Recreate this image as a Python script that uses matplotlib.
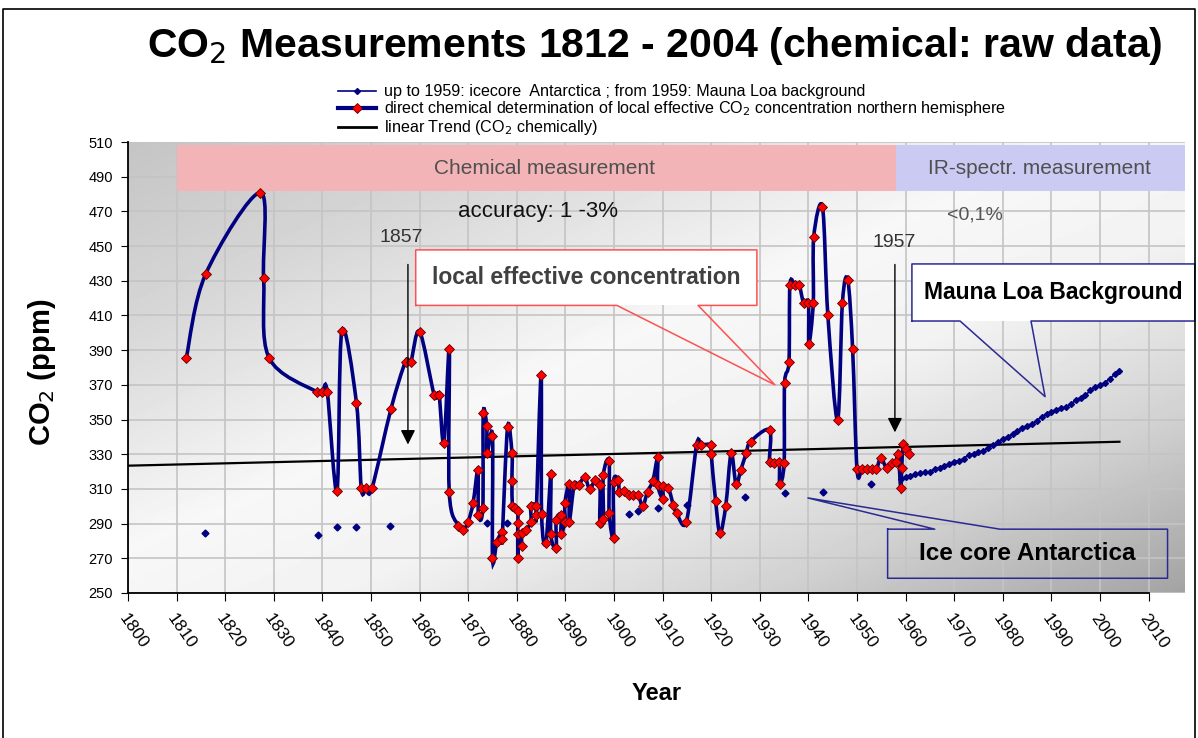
import numpy as np
from matplotlib import pyplot as plt
from matplotlib.path import Path
from matplotlib.patches import PathPatch, Rectangle
from matplotlib.lines import Line2D

plt.rcParams['font.family'] = ['Liberation Sans', 'DejaVu Sans']

# chemical measurements (red diamonds)
chem_year = [1812, 1816, 1827.2, 1827.9, 1829, 1838.8, 1840, 1841, 1843, 1844, 1847, 1848, 1849, 1850.2,
             1854.1, 1857.1, 1858.2, 1860, 1863, 1864, 1865, 1866.1, 1866.1, 1868, 1869, 1870, 1871, 1872,
             1872.1, 1873, 1873.1, 1873.8, 1873.9, 1875, 1875, 1875.9, 1877, 1877, 1878.1, 1879, 1879,
             1879.1, 1879.6, 1880.2, 1880.2, 1880.2, 1880.3, 1881, 1881, 1881.9, 1882.9, 1882.9, 1884, 1884,
             1885, 1885.1, 1886, 1887, 1887, 1888.1, 1888.1, 1889.1, 1889.1, 1889.9, 1889.9, 1890.8, 1890.8,
             1891.8, 1892.7, 1894, 1895, 1896.1, 1897.1, 1897.1, 1897.8, 1897.8, 1899, 1899, 1899.9, 1899.9,
             1900.9, 1901.1, 1902.1, 1903, 1904, 1905, 1905.9, 1906.9, 1908, 1909, 1909, 1910.1, 1910.1,
             1911.2, 1912.2, 1912.9, 1914.9, 1917, 1918, 1920, 1920, 1920.9, 1921.8, 1923, 1924.1, 1925.1,
             1926.1, 1927.2, 1928.1, 1932, 1932, 1933, 1934, 1934.1, 1935, 1935.1, 1936, 1936.2, 1937.2,
             1938.1, 1939, 1940, 1940.1, 1941, 1941.1, 1942.9, 1944, 1946, 1947, 1948.1, 1949.1, 1950, 1951,
             1952, 1953, 1954, 1954.9, 1956.1, 1957.1, 1958, 1958.5, 1959, 1959.2, 1959.5, 1960, 1960.8]
chem_ppm = [385.7, 434, 480.8, 431.8, 385.7, 366, 366, 366, 309, 401, 359.7, 310.4, 310.4, 310.4,
            356, 383.4, 383.4, 400.7, 364.2, 364.2, 336.3, 390.5, 308, 288.8, 286.4, 291.2, 301.8, 321,
            295, 299, 353.6, 346.3, 330.6, 340.5, 270, 279.6, 285.4, 281.2, 345.6, 330.6, 314.6,
            300.4, 298.8, 297, 290.6, 270, 284, 277.3, 284.5, 286.4, 291.2, 300.4, 300.4, 295,
            375.7, 295.6, 279, 318.5, 283.9, 276.2, 292, 295, 284, 291.2, 302, 312.9, 291.2,
            312.3, 312.3, 316.7, 309.8, 315, 312.3, 290.6, 292.5, 318, 326.3, 296.3, 281.6, 314.2,
            315.2, 308.4, 309, 306.5, 306.5, 306.5, 300, 308.4, 314.8, 328.3, 312.3, 304, 311.4,
            310.4, 300.8, 296, 291.2, 335.4, 335.4, 335.4, 330.2, 303.3, 284.5, 300.4, 330.6, 312.9,
            321, 330.6, 337.3, 344, 325.4, 324.8, 325.4, 312.9, 324.8, 370.9, 383.4, 427.6, 427.6,
            427.6, 417.4, 417.4, 393.6, 417.4, 455.4, 472.4, 410.3, 349.8, 417.4, 430.5, 390.5, 321.4, 321.4,
            321.4, 321.4, 321.4, 328, 322, 325.2, 325.8, 330, 310.4, 322, 336, 333, 330]

# ice core Antarctica
ice_year = [1815.8, 1839.1, 1843, 1847, 1854, 1873.8, 1878, 1903, 1905, 1909, 1915, 1927, 1935.2, 1943, 1952.9]
ice_ppm = [284.6, 283.5, 288, 288, 288.7, 290.6, 290.6, 295.6, 297, 299, 301, 305.6, 307.7, 308, 313]

# Mauna Loa background
ml_year = list(range(1959, 2005))
ml_ppm = [316.0, 316.9, 317.6, 318.5, 319.0, 319.6, 320.0, 321.4, 322.2, 323.1, 324.6, 325.7, 326.3, 327.5,
          329.7, 330.2, 331.1, 332.0, 333.8, 335.4, 336.8, 338.8, 340.1, 341.5, 343.2, 344.9, 346.4, 347.6,
          349.3, 351.7, 353.2, 354.5, 355.7, 356.5, 357.2, 359.0, 361.0, 362.7, 363.9, 366.8, 368.5, 369.7,
          371.3, 373.5, 376.0, 377.7]

# linear trend
trend_year = [1800, 2004]
trend_ppm = [323.4, 337.2]

yticks = list(range(250, 511, 20))
xticks = list(range(1800, 2011, 10))

navy = '#000080'


def smooth_path(xs, ys):
    # cubic bezier through the points (like a smoothed spreadsheet line)
    pts = np.column_stack([xs, ys]).astype(float)
    n = len(pts)
    verts = [pts[0]]
    codes = [Path.MOVETO]
    for i in range(n - 1):
        p0 = pts[max(i - 1, 0)]
        p1 = pts[i]
        p2 = pts[i + 1]
        p3 = pts[min(i + 2, n - 1)]
        verts += [p1 + (p2 - p0) / 6, p2 - (p3 - p1) / 6, p2]
        codes += [Path.CURVE4] * 3
    return Path(verts, codes)


fig = plt.figure(figsize=(11.98, 7.38), dpi=100)
ax = fig.add_axes([128 / 1198, 1 - 593 / 738, 1057 / 1198, 451 / 738])
x0, x1 = 1800, 1800 + 1057 / 4.86
ax.set_xlim(x0, x1)
ax.set_ylim(250, 510)

# gradient plot background
u = np.linspace(0, 1, 300)
v = np.linspace(1, 0, 150)
U, V = np.meshgrid(u, v)
t = (U + (1 - V)) / 2
bg = np.interp(t, [0, 0.2, 0.45, 0.6, 0.8, 1], [0.77, 0.84, 0.97, 0.95, 0.82, 0.64])
ax.imshow(bg, extent=[x0, x1, 250, 510], aspect='auto', cmap='gray', vmin=0, vmax=1,
          interpolation='bicubic', zorder=0)

ax.set_xticks(xticks)
ax.set_yticks(yticks)
ax.grid(True, color='#c4c4c4', lw=1.2, zorder=0.5)
ax.set_axisbelow(True)
for s in ['top', 'right']:
    ax.spines[s].set_visible(False)
ax.spines['bottom'].set_bounds(1800, 2010)
ax.spines['left'].set_linewidth(1.3)
ax.spines['bottom'].set_linewidth(1.3)
ax.tick_params(axis='y', direction='out', length=5, labelsize=10.5, pad=6)
ax.tick_params(axis='x', direction='out', length=6, labelsize=12.5, pad=7)
plt.setp(ax.get_xticklabels(), rotation=-55, ha='left', va='top', rotation_mode='anchor')

# measurement bands
ax.add_patch(Rectangle((1810, 481.5), 148, 26.8, facecolor='#f2b4b6', edgecolor='none', zorder=1))
ax.add_patch(Rectangle((1958, 481.5), x1 - 1958, 26.8, facecolor='#cacaf2', edgecolor='none', zorder=1))
ax.text(1885.8, 495, 'Chemical measurement', fontsize=15, color='#505050', ha='center', va='center', zorder=2)
ax.text(1987.5, 495, 'IR-spectr. measurement', fontsize=15, color='#505050', ha='center', va='center', zorder=2)

# data
ax.plot(trend_year, trend_ppm, color='black', lw=1.6, zorder=3)
ax.plot(ice_year, ice_ppm, ls='none', marker='D', ms=3.5, color=navy, zorder=3)
ax.plot(ml_year, ml_ppm, color=navy, lw=1.3, marker='D', ms=3, zorder=3)
ax.add_patch(PathPatch(smooth_path(chem_year, chem_ppm), facecolor='none', edgecolor=navy, lw=2.6, zorder=4))
ax.plot(chem_year, chem_ppm, ls='none', marker='D', ms=5.5, mfc='#ff0000', mec='#600000', mew=0.6, zorder=5)

# texts and arrows
ax.text(1884.4, 469.7, 'accuracy: 1 -3%', fontsize=16, color='#111111', ha='center', va='center', zorder=6)
ax.text(1974.3, 468, '<0,1%', fontsize=14, color='#555555', ha='center', va='center', zorder=6)
ax.text(1856.2, 454.7, '1857', fontsize=14, color='#333333', ha='center', va='center', zorder=6)
ax.text(1957.6, 451.8, '1957', fontsize=14, color='#333333', ha='center', va='center', zorder=6)
ax.annotate('', xy=(1857.6, 334), xytext=(1857.6, 441),
            arrowprops=dict(arrowstyle='-|>', color='black', lw=1, mutation_scale=22), zorder=6)
ax.annotate('', xy=(1957.8, 341), xytext=(1957.8, 441),
            arrowprops=dict(arrowstyle='-|>', color='black', lw=1, mutation_scale=22), zorder=6)


def callout(bx0, bx1, by0, by1, w0, w1, wy, apex, text, ec, fc, size, tcolor):
    ax.add_patch(Rectangle((bx0, by0), bx1 - bx0, by1 - by0, facecolor=fc, edgecolor='none',
                           zorder=6, clip_on=False))
    if wy == by0:
        pts = [(bx0, by0), (w0, by0), apex, (w1, by0), (bx1, by0), (bx1, by1), (bx0, by1), (bx0, by0)]
    else:
        pts = [(bx0, by1), (w0, by1), apex, (w1, by1), (bx1, by1), (bx1, by0), (bx0, by0), (bx0, by1)]
    px, py = zip(*pts)
    ax.plot(px, py, color=ec, lw=1.1, zorder=7, clip_on=False)
    ax.text((bx0 + bx1) / 2, (by0 + by1) / 2, text, fontsize=size, weight='bold', color=tcolor,
            ha='center', va='center', zorder=8, clip_on=False)


callout(1859.2, 1929.4, 415.8, 447.8, 1900.6, 1917.3, 415.8, (1933.1, 370.0),
        'local effective concentration', '#ff5050', 'white', 16.5, '#404040')
callout(1961.3, 2019.5, 406.8, 439.7, 1971.2, 1985.8, 406.8, (1988.7, 363.2),
        'Mauna Loa Background', '#2a2a90', 'white', 16.5, 'black')
callout(1956.3, 2013.9, 258.5, 286.8, 1966.0, 1979.4, 286.8, (1939.9, 304.8),
        'Ice core Antarctica', '#2a2a90', 'none', 17.5, 'black')

ax.set_xlabel('Year', fontsize=17, weight='bold', labelpad=22)
fig.text(42 / 1198, 1 - 372 / 738, 'CO$_2$ (ppm)', fontsize=21, weight='bold', rotation=90,
         ha='center', va='center')
fig.text(655 / 1198, 1 - 46 / 738, 'CO$_2$ Measurements 1812 - 2004 (chemical: raw data)',
         fontsize=29.5, weight='bold', ha='center', va='center')

# legend
handles = [Line2D([], [], color=navy, lw=1.2, marker='D', ms=3),
           Line2D([], [], color=navy, lw=3, marker='D', ms=5.5, mfc='#ff0000', mec='#600000', mew=0.6),
           Line2D([], [], color='black', lw=2)]
labels = ['up to 1959: icecore  Antarctica ; from 1959: Mauna Loa background',
          'direct chemical determination of local effective CO$_2$ concentration northern hemisphere',
          'linear Trend (CO$_2$ chemically)']
fig.legend(handles, labels, loc='upper left', bbox_to_anchor=(332 / 1198, 1 - 78 / 738), frameon=False,
           fontsize=11.6, handlelength=2.3, labelspacing=0.0, handletextpad=0.5, borderaxespad=0)

# frame around the picture
fig.add_artist(Line2D([3 / 1198, 3 / 1198, 1195 / 1198, 1195 / 1198], [0, 1 - 9 / 738, 1 - 9 / 738, 0],
                      color='black', lw=1.2, transform=fig.transFigure))

fig.savefig('out.png', dpi=100)
